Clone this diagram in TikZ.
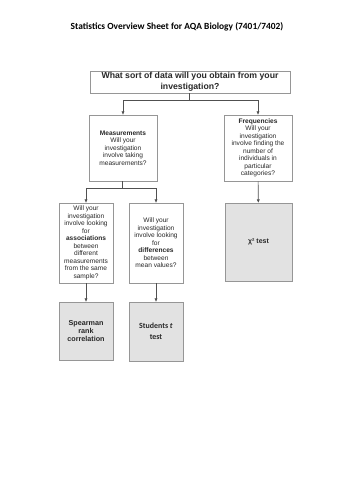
\documentclass[tikz,border=0pt]{standalone}
\usepackage{fontspec}
\setmainfont{Liberation Sans}
\newfontfamily\calibrifont{Carlito}
\usetikzlibrary{arrows.meta}
\definecolor{BoxEdge}{RGB}{150,150,150}
\definecolor{ResultFill}{RGB}{226,226,226}
\definecolor{LinkGrey}{RGB}{80,80,80}
\definecolor{TextGrey}{RGB}{40,40,40}
\tikzset{
  qbox/.style={draw=BoxEdge, fill=white, line width=0.8pt, align=center, inner sep=1pt,
    text=TextGrey, font=\fontsize{6.6}{7.5}\selectfont},
  resultbox/.style={qbox, fill=ResultFill},
  link/.style={draw=LinkGrey, line width=0.6pt},
  arrowlink/.style={link, -{Triangle[length=3.2pt,width=2.8pt]}}
}

\begin{document}
\begin{tikzpicture}[x=1pt, y=-1pt]
    \useasboundingbox (0,0) rectangle (354,500);
    \node[font=\calibrifont\bfseries\fontsize{9.4}{11}\selectfont] (title) at (177,27) {Statistics Overview Sheet for AQA Biology (7401/7402)};

    \node[qbox, minimum width=200pt, minimum height=22pt, font=\bfseries\fontsize{8.7}{10.5}\selectfont] (data) at (190,82)
      {What sort of data will you obtain from your\\investigation?};
    \node[qbox, minimum width=68pt, minimum height=66pt] (meas) at (123,148)
      {\textbf{Measurements}\\Will your\\investigation\\involve taking\\measurements?};
    \node[qbox, minimum width=68pt, minimum height=66pt] (freq) at (258,148)
      {\textbf{Frequencies}\\Will your\\investigation\\involve finding the\\number of\\individuals in\\particular\\categories?};
    \node[qbox, minimum width=54pt, minimum height=80pt] (assoc) at (86,243)
      {Will your\\investigation\\involve looking\\for\\\textbf{associations}\\between\\different\\measurements\\from the same\\sample?};
    \node[qbox, minimum width=54pt, minimum height=80pt] (diff) at (156,243)
      {Will your\\investigation\\involve looking\\for\\\textbf{differences}\\between\\mean values?};
    \node[resultbox, minimum width=67pt, minimum height=78pt, font=\bfseries\fontsize{7}{8}\selectfont] (chi) at (258.5,242) {χ² test};
    \node[resultbox, minimum width=54pt, minimum height=58pt, font=\bfseries\fontsize{7.2}{7.8}\selectfont] (spear) at (86,331)
      {Spearman\\rank\\correlation};
    \node[resultbox, minimum width=54pt, minimum height=59pt, font=\calibrifont\bfseries\fontsize{7.9}{10.7}\selectfont] (ttest) at (156,331.5)
      {Students \textit{t}\\test};

    \coordinate (datasplit) at (189,100);
    \coordinate (meassplit) at (122,188);
    \draw[link] (data.south -| datasplit) -- (datasplit);
    \draw[arrowlink] (datasplit) -| (meas.north);
    \draw[arrowlink] (datasplit) -| (freq.north);
    \draw[link] (meas.south -| meassplit) -- (meassplit);
    \draw[arrowlink] (meassplit) -| (assoc.north);
    \draw[arrowlink] (meassplit) -| (diff.north);
    \draw[arrowlink] (freq) -- (chi);
    \draw[arrowlink] (assoc) -- (spear);
    \draw[arrowlink] (diff) -- (ttest);
  \end{tikzpicture}
\end{document}
